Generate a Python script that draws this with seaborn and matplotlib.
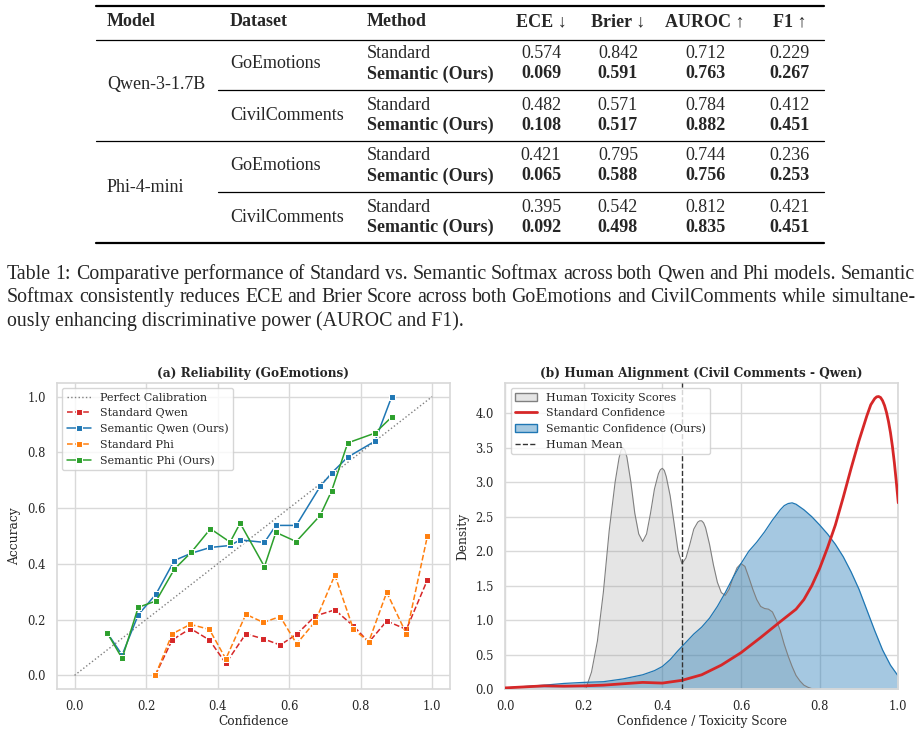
import numpy as np
import pandas as pd
import seaborn as sns
import matplotlib.pyplot as plt
from matplotlib.lines import Line2D
from matplotlib.patches import Patch

# %% Data

# table
col_names = ["Model", "Dataset", "Method", "ECE ↓", "Brier ↓", "AUROC ↑", "F1 ↑"]
models = ["Qwen-3-1.7B", "Phi-4-mini"]
datasets = ["GoEmotions", "CivilComments"]
methods = ["Standard", "Semantic (Ours)"]
# one row per (model, dataset), order: ECE, Brier, AUROC, F1
standard_scores = [
    [0.574, 0.842, 0.712, 0.229],
    [0.482, 0.571, 0.784, 0.412],
    [0.421, 0.795, 0.744, 0.236],
    [0.395, 0.542, 0.812, 0.421],
]
semantic_scores = [
    [0.069, 0.591, 0.763, 0.267],
    [0.108, 0.517, 0.882, 0.451],
    [0.065, 0.588, 0.756, 0.253],
    [0.092, 0.498, 0.835, 0.451],
]

caption_lines = [
    "Table 1: Comparative performance of Standard vs. Semantic Softmax across both Qwen and Phi models. Semantic",
    "Softmax consistently reduces ECE and Brier Score across both GoEmotions and CivilComments while simultane-",
    "ously enhancing discriminative power (AUROC and F1).",
]

# (a) reliability diagram
calib = [0.0, 1.0]
sem_conf = [0.091, 0.133, 0.178, 0.228, 0.279, 0.326, 0.380, 0.435, 0.463,
            0.531, 0.563, 0.620, 0.687, 0.719, 0.764, 0.840, 0.887]
sem_qwen_acc = [0.153, 0.073, 0.217, 0.292, 0.412, 0.438, 0.459, 0.466, 0.486,
                0.477, 0.538, 0.538, 0.678, 0.726, 0.783, 0.840, 1.000]
sem_phi_acc = [0.153, 0.061, 0.244, 0.267, 0.381, 0.441, 0.526, 0.478, 0.546,
               0.390, 0.513, 0.480, 0.574, 0.662, 0.834, 0.869, 0.927]
std_conf = [0.226, 0.273, 0.324, 0.377, 0.423, 0.479, 0.528, 0.575,
            0.621, 0.673, 0.728, 0.780, 0.823, 0.873, 0.928, 0.987]
std_qwen_acc = [0.001, 0.127, 0.168, 0.127, 0.043, 0.149, 0.131, 0.109,
                0.147, 0.213, 0.235, 0.177, 0.119, 0.195, 0.165, 0.343]
std_phi_acc = [0.000, 0.149, 0.183, 0.165, 0.059, 0.219, 0.190, 0.211,
               0.113, 0.193, 0.360, 0.165, 0.121, 0.298, 0.149, 0.501]

# (b) density curves
human_x = [0.205, 0.22, 0.235, 0.25, 0.265, 0.28, 0.29, 0.295, 0.30, 0.305, 0.31, 0.32,
           0.33, 0.34, 0.35, 0.36, 0.37, 0.38, 0.39, 0.395, 0.40, 0.405, 0.41, 0.42,
           0.43, 0.44, 0.45, 0.46, 0.47, 0.48, 0.49, 0.495, 0.50, 0.505, 0.51, 0.52,
           0.53, 0.54, 0.55, 0.56, 0.57, 0.58, 0.59, 0.60, 0.61, 0.62, 0.63, 0.64,
           0.65, 0.66, 0.67, 0.68, 0.69, 0.70, 0.71, 0.72, 0.73, 0.74, 0.75, 0.76,
           0.77, 0.78, 0.80]
human_d = [0.0, 0.25, 0.7, 1.4, 2.3, 3.0, 3.35, 3.46, 3.5, 3.46, 3.36, 3.0,
           2.55, 2.25, 2.14, 2.25, 2.55, 2.9, 3.12, 3.18, 3.2, 3.17, 3.08, 2.8,
           2.4, 2.0, 1.82, 1.9, 2.1, 2.32, 2.42, 2.44, 2.44, 2.41, 2.34, 2.1,
           1.8, 1.55, 1.4, 1.36, 1.45, 1.62, 1.76, 1.82, 1.78, 1.62, 1.45, 1.3,
           1.2, 1.17, 1.16, 1.12, 1.0, 0.85, 0.65, 0.48, 0.33, 0.2, 0.12, 0.06,
           0.03, 0.01, 0.0]
sem_x = [0.00, 0.05, 0.10, 0.15, 0.20, 0.25, 0.30, 0.35, 0.38, 0.40, 0.42, 0.44,
         0.46, 0.48, 0.50, 0.52, 0.54, 0.56, 0.58, 0.60, 0.62, 0.64, 0.66, 0.68,
         0.70, 0.71, 0.72, 0.73, 0.74, 0.76, 0.78, 0.80, 0.82, 0.84, 0.86, 0.88,
         0.90, 0.92, 0.94, 0.96, 0.98, 1.00]
sem_d = [0.02, 0.04, 0.06, 0.085, 0.10, 0.11, 0.15, 0.21, 0.27, 0.33, 0.43, 0.56,
         0.68, 0.80, 0.90, 1.03, 1.20, 1.40, 1.62, 1.82, 2.00, 2.13, 2.28, 2.45,
         2.60, 2.66, 2.69, 2.70, 2.68, 2.60, 2.50, 2.38, 2.25, 2.10, 1.92, 1.70,
         1.45, 1.15, 0.85, 0.57, 0.35, 0.19]
std_x = [0.00, 0.05, 0.10, 0.15, 0.20, 0.25, 0.30, 0.35, 0.40, 0.45, 0.50, 0.55,
         0.60, 0.65, 0.70, 0.72, 0.74, 0.76, 0.78, 0.80, 0.82, 0.84, 0.86, 0.88,
         0.90, 0.92, 0.93, 0.94, 0.945, 0.95, 0.955, 0.96, 0.965, 0.97, 0.975,
         0.98, 0.985, 0.99, 0.995, 1.00]
std_d = [0.02, 0.035, 0.05, 0.045, 0.05, 0.06, 0.08, 0.10, 0.09, 0.13, 0.21, 0.35,
         0.53, 0.75, 0.98, 1.07, 1.16, 1.30, 1.50, 1.75, 2.05, 2.38, 2.78, 3.20,
         3.60, 3.96, 4.12, 4.21, 4.235, 4.24, 4.225, 4.18, 4.11, 4.01, 3.88,
         3.72, 3.52, 3.28, 3.00, 2.70]
human_mean = 0.451

# %% Style
sns.set_theme(style="whitegrid")
plt.rcParams['font.family'] = ['DejaVu Serif']
plt.rcParams['axes.edgecolor'] = '.85'
plt.rcParams['grid.color'] = '.85'

W, H = 923, 731
fig = plt.figure(figsize=(W / 100, H / 100), dpi=100)
TIMES = ['Liberation Serif', 'DejaVu Serif']


def px(x, y):
    # pixel position (from top-left) to figure fraction
    return x / W, 1 - y / H


def hrule(y, x0, x1, lw):
    xa, ya = px(x0, y)
    xb, _ = px(x1, y)
    fig.add_artist(Line2D([xa, xb], [ya, ya], color='black', lw=lw))


def ttext(x, y, s, bold=False, ha='left', size=13):
    fig.text(*px(x, y), s, family=TIMES, fontsize=size, ha=ha, va='center',
             fontweight='bold' if bold else 'normal')


# %% Table
col_x = [107, 230, 367, 541, 618, 705, 790]
tab_left, tab_right = 96, 824

hrule(6, tab_left, tab_right, 1.6)
for cnt, name in enumerate(col_names):
    ttext(col_x[cnt], 22, name, bold=True, ha='left' if cnt < 3 else 'center')
hrule(40, tab_left, tab_right, 0.9)

row = 0
for m_cnt, model in enumerate(models):
    top = 54 + 102 * m_cnt
    ttext(col_x[0], top + 31, model)
    for d_cnt, dset in enumerate(datasets):
        y0 = top + 51 * d_cnt
        ttext(col_x[1], y0 + 10, dset)
        ttext(col_x[2], y0, methods[0])
        ttext(col_x[2], y0 + 20, methods[1], bold=True)
        for k in range(4):
            ttext(col_x[3 + k], y0, f"{standard_scores[row][k]:.3f}", ha='center')
            ttext(col_x[3 + k], y0 + 20, f"{semantic_scores[row][k]:.3f}", bold=True, ha='center')
        row += 1
    hrule(top + 36, 218, tab_right, 0.9)
    if m_cnt == 0:
        hrule(top + 87, tab_left, tab_right, 0.9)
hrule(243, tab_left, tab_right, 1.6)

# %% Caption (justified lines)
cap_size = 14.3
renderer = fig.canvas.get_renderer()
for cnt, line in enumerate(caption_lines):
    y = 274 + 23.5 * cnt
    if cnt == len(caption_lines) - 1:
        ttext(7, y, line, size=cap_size)
        continue
    words = line.split()
    texts = [fig.text(0, 0, w, family=TIMES, fontsize=cap_size, va='center') for w in words]
    widths = [t.get_window_extent(renderer).width for t in texts]
    gap = (915 - 7 - sum(widths)) / (len(words) - 1)
    xpos = 7
    for t, w in zip(texts, widths):
        t.set_position(px(xpos, y))
        xpos += w + gap

# %% (a) Reliability
ax1 = fig.add_axes([56.7 / W, 1 - 689.3 / H, 393.3 / W, 306.6 / H])
ax2 = fig.add_axes([505 / W, 1 - 689.3 / H, 393.3 / W, 306.6 / H])

sns.lineplot(x=calib, y=calib, ax=ax1, color='gray', linestyle=':', lw=1,
             label='Perfect Calibration')
line_kw = dict(marker='s', markersize=5, lw=1.1, ax=ax1)
sns.lineplot(x=std_conf, y=std_qwen_acc, color='#d62728', linestyle='--',
             label='Standard Qwen', **line_kw)
sns.lineplot(x=sem_conf, y=sem_qwen_acc, color='#1f77b4', linestyle='-',
             label='Semantic Qwen (Ours)', **line_kw)
sns.lineplot(x=std_conf, y=std_phi_acc, color='#ff7f0e', linestyle='--',
             label='Standard Phi', **line_kw)
sns.lineplot(x=sem_conf, y=sem_phi_acc, color='#2ca02c', linestyle='-',
             label='Semantic Phi (Ours)', **line_kw)
ax1.set_xlim(-0.05, 1.05)
ax1.set_ylim(-0.05, 1.05)
ax1.set_xticks(np.arange(0, 1.01, 0.2))
ax1.set_yticks(np.arange(0, 1.01, 0.2))
ax1.set_title("(a) Reliability (GoEmotions)", fontsize=8.7, fontweight='bold', pad=4)
ax1.set_xlabel("Confidence", fontsize=8.8, labelpad=1)
ax1.set_ylabel("Accuracy", fontsize=8.8, labelpad=4)
ax1.legend(loc='upper left', fontsize=8, handlelength=2.2)

# %% (b) Human alignment
ax2.fill_between(human_x, human_d, color='gray', alpha=0.2, lw=0)
sns.lineplot(x=human_x, y=human_d, ax=ax2, color='gray', lw=0.8)
ax2.fill_between(sem_x, sem_d, color='#1f77b4', alpha=0.4, lw=0)
sns.lineplot(x=sem_x, y=sem_d, ax=ax2, color='#1f77b4', lw=0.9)
sns.lineplot(x=std_x, y=std_d, ax=ax2, color='#d62728', lw=2, zorder=4)
ax2.axvline(human_mean, color='#333333', linestyle='--', lw=1, zorder=5)
ax2.set_xlim(0, 1)
ax2.set_ylim(0, 4.44)
ax2.set_xticks(np.arange(0, 1.01, 0.2))
ax2.set_yticks(np.arange(0, 4.01, 0.5))
ax2.set_title("(b) Human Alignment (Civil Comments - Qwen)", fontsize=8.7,
              fontweight='bold', pad=4)
ax2.set_xlabel("Confidence / Toxicity Score", fontsize=8.8, labelpad=1)
ax2.set_ylabel("Density", fontsize=8.8, labelpad=4)
handles = [
    Patch(facecolor=(0.5, 0.5, 0.5, 0.2), edgecolor='gray', label='Human Toxicity Scores'),
    Line2D([], [], color='#d62728', lw=2, label='Standard Confidence'),
    Patch(facecolor=(0.12, 0.47, 0.71, 0.4), edgecolor='#1f77b4', label='Semantic Confidence (Ours)'),
    Line2D([], [], color='#333333', linestyle='--', lw=1, label='Human Mean'),
]
ax2.legend(handles=handles, loc='upper left', fontsize=8)

for ax in (ax1, ax2):
    ax.tick_params(labelsize=8.3, pad=2)

plt.savefig('out.png', dpi=100)
